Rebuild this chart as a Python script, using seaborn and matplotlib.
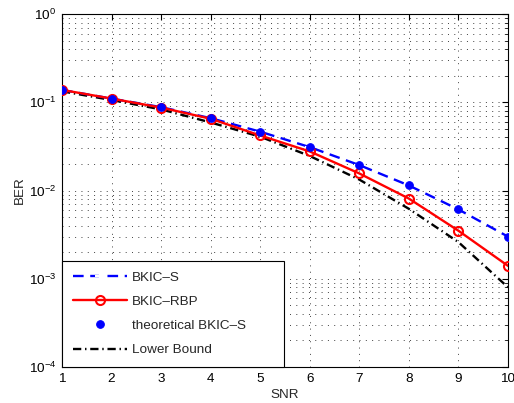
import numpy as np
import pandas as pd
import matplotlib
matplotlib.use("Agg")
import matplotlib.pyplot as plt
import seaborn as sns

# values
snr = [1, 2, 3, 4, 5, 6, 7, 8, 9, 10]
ber_bkic_s = [0.138, 0.110, 0.088, 0.066, 0.0464, 0.031, 0.0194, 0.0114, 0.0061, 0.0030]
ber_bkic_rbp = [0.138, 0.110, 0.087, 0.065, 0.042, 0.0277, 0.0156, 0.0081, 0.0035, 0.0014]
ber_theory = [0.138, 0.110, 0.088, 0.066, 0.0464, 0.031, 0.0194, 0.0114, 0.0061, 0.0030]
ber_lower = [0.133, 0.106, 0.083, 0.059, 0.0407, 0.0246, 0.0133, 0.0062, 0.0026, 0.0008]

sns.set_style("white")
plt.rcParams['font.family'] = ['Liberation Sans', 'DejaVu Sans']
plt.rcParams['mathtext.fontset'] = 'custom'
plt.rcParams['mathtext.rm'] = 'Liberation Sans'
plt.rcParams['mathtext.it'] = 'Liberation Sans:italic'
fs = 9.7

fig = plt.figure(figsize=(5.14, 4.03), dpi=100)
ax = fig.add_axes([62 / 514, 36 / 403, 446 / 514, 353 / 403])

lw = 1.7
sns.lineplot(x=snr, y=ber_lower, ax=ax, color='black', linestyle=(0, (3.5, 1.6, 0.6, 1.6)),
             linewidth=lw, label='Lower Bound', zorder=2)
sns.lineplot(x=snr, y=ber_bkic_s, ax=ax, color='blue', linestyle=(0, (4.5, 2.8)), linewidth=lw,
             marker='+', markersize=7, markeredgewidth=1.5, label='BKIC\u2013S', zorder=3)
sns.lineplot(x=snr, y=ber_bkic_rbp, ax=ax, color='red', linestyle='-', linewidth=lw,
             marker='o', markersize=6.5, markerfacecolor='none', markeredgecolor='red',
             markeredgewidth=1.5, label='BKIC\u2013RBP', zorder=4)
sns.lineplot(x=snr, y=ber_theory, ax=ax, color='blue', linestyle='', marker='o',
             markersize=5.5, markeredgecolor='blue', label='theoretical BKIC\u2013S', zorder=5)

ax.set_yscale('log')
ax.set_xlim(1, 10)
ax.set_ylim(1e-4, 1)
ax.set_xticks(snr)
ax.set_yticks([1e-4, 1e-3, 1e-2, 1e-1, 1])
ax.yaxis.set_minor_locator(matplotlib.ticker.LogLocator(base=10, subs=np.arange(2, 10)))
ax.yaxis.set_minor_formatter(matplotlib.ticker.NullFormatter())

grid_style = dict(color='0.25', linestyle=(0, (1, 5.5)), linewidth=0.7)
ax.grid(True, which='major', **grid_style)
ax.grid(True, which='minor', axis='y', **grid_style)
ax.tick_params(which='both', direction='in', top=True, right=True, labelsize=fs,
               colors='black', pad=4)
ax.tick_params(which='major', length=4, width=0.8)
ax.tick_params(which='minor', length=2, width=0.6)
for s in ax.spines.values():
    s.set_color('black')
    s.set_linewidth(0.8)

ax.set_xlabel('SNR', fontsize=fs, labelpad=3.5)
ax.set_ylabel('BER', fontsize=fs, labelpad=2.5)

handles, labels = ax.get_legend_handles_labels()
order = [labels.index(l) for l in ['BKIC\u2013S', 'BKIC\u2013RBP', 'theoretical BKIC\u2013S', 'Lower Bound']]
leg = ax.legend([handles[i] for i in order], [labels[i] for i in order],
                loc='lower left', bbox_to_anchor=(0, 0, 0.498, 0.30), mode='expand',
                borderaxespad=0, fontsize=fs, handlelength=4.0, handletextpad=0.4,
                labelspacing=0.87, borderpad=0.8, fancybox=False, framealpha=1,
                edgecolor='black')
leg.get_frame().set_linewidth(0.8)

fig.savefig('out.png', dpi=100)
